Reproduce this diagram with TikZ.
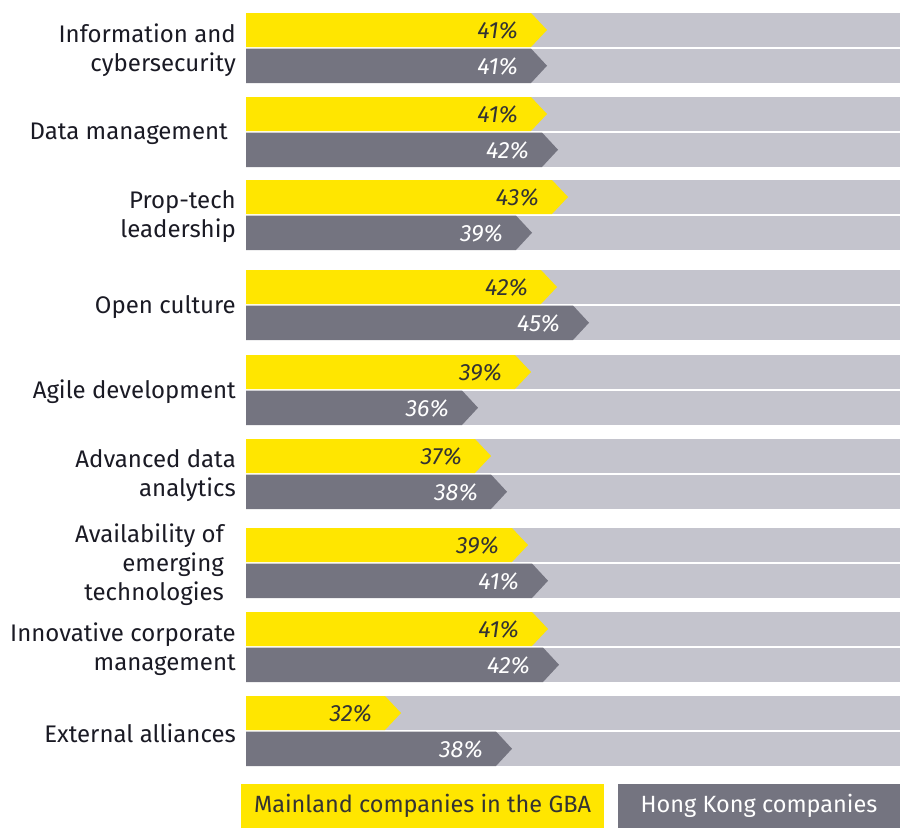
\documentclass[tikz,border=0pt]{standalone}
\usepackage{fontspec}
\setmainfont{Fira Sans}
\usetikzlibrary{positioning}

\definecolor{eyyellow}{HTML}{FFE600}
\definecolor{eydark}{HTML}{747480}
\definecolor{eylight}{HTML}{C4C4CD}
\definecolor{eytext}{HTML}{1A1A24}
\definecolor{eypct}{HTML}{333333}

\tikzset{
  catlabel/.style={anchor=east, align=right, inner sep=0pt, text=eytext,
    font=\fontsize{24}{29}\selectfont},
  pctlabel/.style={anchor=east, inner sep=0pt,
    font=\fontsize{23.5}{25}\selectfont\itshape},
  legendbox/.style={minimum height=44pt, inner sep=0pt,
    font=\fontsize{23.5}{26}\selectfont}
}

\begin{document}
\begin{tikzpicture}[x=1pt,y=-1pt]
\useasboundingbox (0,0) rectangle (900,828);
% one group of two bars per row
\foreach \t/\vy/\ty/\vg/\tg/\lx/\lab [count=\i] in {
  13/41/547/41/547/236/{Information and\\cybersecurity},
  97/41/547/42/558/228/{Data management},
  180/43/568/39/532/236/{Prop-tech\\leadership},
  270/42/557/45/589/236/{Open culture},
  355/39/531/36/478/236/{Agile development},
  439/37/491/38/507/236/{Advanced data\\analytics},
  528/39/528/41/548/224/{Availability of\\emerging\\technologies},
  612/41/548/42/559/236/{Innovative corporate\\management},
  696/32/401/38/512/236/{External alliances}}
{
  \fill[eylight] (246,\t) rectangle (900,\t+34);
  \fill[eylight] (246,\t+35.5) rectangle (900,\t+70);
  \fill[eyyellow] (246,\t) -- (\ty-16,\t) -- (\ty,\t+17) -- (\ty-16,\t+34)
    -- (246,\t+34) -- cycle;
  \fill[eydark] (246,\t+35.5) -- (\tg-16,\t+35.5) -- (\tg,\t+52.75)
    -- (\tg-16,\t+70) -- (246,\t+70) -- cycle;
  \node[pctlabel, text=eypct] (main\i) at (\ty-29,\t+17.5) {\vy\%};
  \node[pctlabel, text=white] (hk\i) at (\tg-29,\t+53.25) {\vg\%};
  \node[catlabel] (cat\i) at (\lx,\t+37) {\lab};
}
% legend
\node[legendbox, fill=eyyellow, text=eypct, minimum width=363pt] (keymain)
  at (422.5,806) {Mainland companies in the GBA};
\node[legendbox, fill=eydark, text=white, minimum width=282pt] (keyhk)
  at (759,806) {Hong Kong companies};
\end{tikzpicture}
\end{document}
